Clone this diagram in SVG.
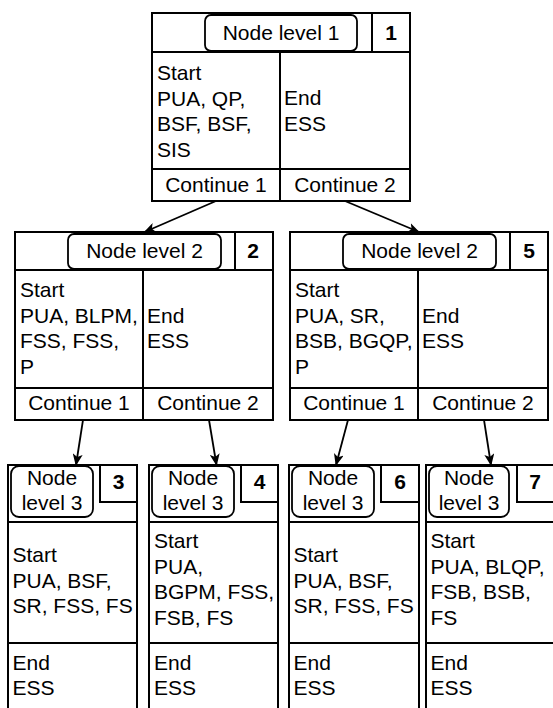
<svg xmlns="http://www.w3.org/2000/svg" width="553" height="708" viewBox="0 0 553 708">
<defs>
<marker id="arr" viewBox="0 0 12 10" refX="11" refY="5" markerWidth="12" markerHeight="10" markerUnits="userSpaceOnUse" orient="auto">
<path d="M0,0 L12,5 L0,10 L3,5 z" fill="#000"/>
</marker>
<style>
.box{fill:#fff;stroke:#000;stroke-width:2}
.ln{stroke:#000;stroke-width:2;fill:none}
.lbl{fill:#fff;stroke:#000;stroke-width:1.8}
text{font-family:"Liberation Sans",Arial,sans-serif;font-size:21px;fill:#000}
.c{text-anchor:middle}
.n{font-weight:bold;text-anchor:middle}
.edge{stroke:#000;stroke-width:1.8;fill:none;marker-end:url(#arr)}
</style>
</defs>
<rect width="553" height="708" fill="#fff"/>

<g id="node1">
<rect class="box" x="152" y="13" width="258" height="188"/>
<line class="ln" x1="152" y1="52" x2="410" y2="52"/>
<line class="ln" x1="280" y1="52" x2="280" y2="201"/>
<line class="ln" x1="152" y1="169" x2="410" y2="169"/>
<rect class="lbl" x="205" y="15" width="152" height="36" rx="6"/>
<rect class="box" x="372" y="13" width="38" height="39"/>
<text class="c" x="281" y="40">Node level 1</text>
<text class="n" x="391" y="40">1</text>
<text x="157" y="80">Start</text>
<text x="157" y="105.5">PUA, QP,</text>
<text x="157" y="131">BSF, BSF,</text>
<text x="157" y="156.5">SIS</text>
<text x="284" y="105">End</text>
<text x="284" y="130.5">ESS</text>
<text class="c" x="216" y="192">Continue 1</text>
<text class="c" x="345" y="192">Continue 2</text>
</g>

<g id="node2">
<rect class="box" x="15" y="232" width="258" height="188"/>
<line class="ln" x1="15" y1="270" x2="273" y2="270"/>
<line class="ln" x1="143" y1="270" x2="143" y2="420"/>
<line class="ln" x1="15" y1="388" x2="273" y2="388"/>
<rect class="lbl" x="68" y="234" width="153" height="35" rx="6"/>
<rect class="box" x="235" y="232" width="38" height="38"/>
<text class="c" x="144.5" y="258">Node level 2</text>
<text class="n" x="253" y="258">2</text>
<text x="20" y="297">Start</text>
<text x="20" y="322.5">PUA, BLPM,</text>
<text x="20" y="348">FSS, FSS,</text>
<text x="20" y="373.5">P</text>
<text x="147" y="322.5">End</text>
<text x="147" y="348">ESS</text>
<text class="c" x="79" y="410">Continue 1</text>
<text class="c" x="208" y="410">Continue 2</text>
</g>

<g id="node5">
<rect class="box" x="290" y="232" width="258" height="188"/>
<line class="ln" x1="290" y1="270" x2="548" y2="270"/>
<line class="ln" x1="418" y1="270" x2="418" y2="420"/>
<line class="ln" x1="290" y1="388" x2="548" y2="388"/>
<rect class="lbl" x="343" y="234" width="153" height="35" rx="6"/>
<rect class="box" x="510" y="232" width="38" height="38"/>
<text class="c" x="419.5" y="258">Node level 2</text>
<text class="n" x="529" y="258">5</text>
<text x="295" y="297">Start</text>
<text x="295" y="322.5">PUA, SR,</text>
<text x="295" y="348">BSB, BGQP,</text>
<text x="295" y="373.5">P</text>
<text x="422" y="322.5">End</text>
<text x="422" y="348">ESS</text>
<text class="c" x="354" y="410">Continue 1</text>
<text class="c" x="483" y="410">Continue 2</text>
</g>

<g id="node3">
<rect class="box" x="8" y="465" width="129" height="260"/>
<line class="ln" x1="8" y1="522" x2="137" y2="522"/>
<line class="ln" x1="8" y1="643" x2="137" y2="643"/>
<rect class="lbl" x="11" y="466" width="82" height="51" rx="8"/>
<rect class="box" x="100" y="465" width="37" height="37"/>
<text class="c" x="52" y="485">Node</text>
<text class="c" x="52" y="510">level 3</text>
<text class="n" x="118.5" y="489">3</text>
<text x="12.5" y="562">Start</text>
<text x="12.5" y="587.5">PUA, BSF,</text>
<text x="12.5" y="613">SR, FSS, FS</text>
<text x="12.5" y="670">End</text>
<text x="12.5" y="695">ESS</text>
</g>

<g id="node4">
<rect class="box" x="149" y="465" width="129" height="260"/>
<line class="ln" x1="149" y1="522" x2="278" y2="522"/>
<line class="ln" x1="149" y1="643" x2="278" y2="643"/>
<rect class="lbl" x="152" y="466" width="82" height="51" rx="8"/>
<rect class="box" x="241" y="465" width="37" height="37"/>
<text class="c" x="193" y="485">Node</text>
<text class="c" x="193" y="510">level 3</text>
<text class="n" x="259.5" y="489">4</text>
<text x="154" y="548">Start</text>
<text x="154" y="573.5">PUA,</text>
<text x="154" y="599">BGPM, FSS,</text>
<text x="154" y="624.5">FSB, FS</text>
<text x="154" y="670">End</text>
<text x="154" y="695">ESS</text>
</g>

<g id="node6">
<rect class="box" x="289" y="465" width="130" height="260"/>
<line class="ln" x1="289" y1="522" x2="419" y2="522"/>
<line class="ln" x1="289" y1="643" x2="419" y2="643"/>
<rect class="lbl" x="292" y="466" width="82" height="51" rx="8"/>
<rect class="box" x="381" y="465" width="38" height="37"/>
<text class="c" x="333" y="485">Node</text>
<text class="c" x="333" y="510">level 3</text>
<text class="n" x="400" y="489">6</text>
<text x="293.5" y="562">Start</text>
<text x="293.5" y="587.5">PUA, BSF,</text>
<text x="293.5" y="613">SR, FSS, FS</text>
<text x="293.5" y="670">End</text>
<text x="293.5" y="695">ESS</text>
</g>

<g id="node7">
<rect class="box" x="426" y="465" width="130" height="260"/>
<line class="ln" x1="426" y1="522" x2="556" y2="522"/>
<line class="ln" x1="426" y1="643" x2="556" y2="643"/>
<rect class="lbl" x="429" y="466" width="80" height="51" rx="8"/>
<rect class="box" x="517" y="465" width="39" height="37"/>
<text class="c" x="469" y="485">Node</text>
<text class="c" x="469" y="510">level 3</text>
<text class="n" x="535" y="489">7</text>
<text x="430.5" y="548">Start</text>
<text x="430.5" y="573.5">PUA, BLQP,</text>
<text x="430.5" y="599">FSB, BSB,</text>
<text x="430.5" y="624.5">FS</text>
<text x="430.5" y="670">End</text>
<text x="430.5" y="695">ESS</text>
</g>

<g id="connectors">
<path class="edge" d="M216,201 L144.5,232"/>
<path class="edge" d="M345,201 L419,232"/>
<path class="edge" d="M83,420 L76,465"/>
<path class="edge" d="M209,420 L216.5,465"/>
<path class="edge" d="M348,420 L336,465"/>
<path class="edge" d="M484,420 L491,465"/>
</g>
</svg>
